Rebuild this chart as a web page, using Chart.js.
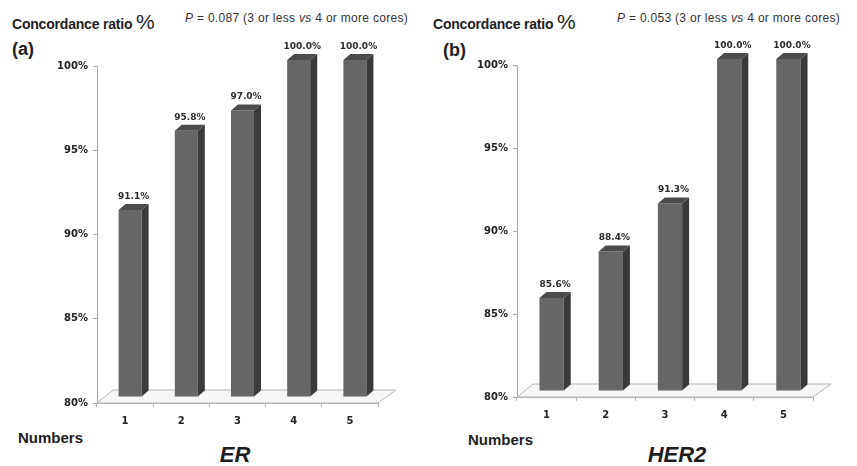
<!DOCTYPE html>
<html>
<head>
<meta charset="utf-8">
<script src="https://cdn.jsdelivr.net/npm/chart.js@4.4.0/dist/chart.umd.min.js"></script>
<style>
body{margin:0;width:857px;height:466px;position:relative;background:#fff;overflow:hidden;font-family:"Liberation Sans",Arial,sans-serif;color:#1e1e1e}
.t{position:absolute;line-height:1;white-space:nowrap}
.title{font-size:14px;font-weight:bold;letter-spacing:-0.2px}
.title span{font-size:21px;font-weight:normal;letter-spacing:0}
.pval{font-size:12px;color:#333;letter-spacing:0.3px}
.panel{font-size:18px;font-weight:bold}
.numbers{font-size:15px;font-weight:bold}
.marker{font-size:22px;font-weight:bold;font-style:italic;transform:translateX(-50%)}
.wrap{position:absolute;top:0;height:466px}
</style>
</head>
<body>
<div class="t title" style="left:12px;top:11px">Concordance ratio <span>%</span></div>
<div class="t pval" style="left:185px;top:12px"><i>P</i> = 0.087 (3 or less <i>vs</i> 4 or more cores)</div>
<div class="t panel" style="left:12px;top:40px">(a)</div>
<div class="t numbers" style="left:18px;top:430px">Numbers</div>
<div class="t marker" style="left:235px;top:444px">ER</div>

<div class="t title" style="left:433px;top:11px">Concordance ratio <span>%</span></div>
<div class="t pval" style="left:617px;top:12px"><i>P</i> = 0.053 (3 or less <i>vs</i> 4 or more cores)</div>
<div class="t panel" style="left:443px;top:41px">(b)</div>
<div class="t numbers" style="left:468px;top:432px">Numbers</div>
<div class="t marker" style="left:677px;top:444px">HER2</div>

<div class="wrap" style="left:0;width:428px"><canvas id="chartER"></canvas></div>
<div class="wrap" style="left:428px;width:429px"><canvas id="chartHER2"></canvas></div>

<script>
const categories = ['1', '2', '3', '4', '5'];
const erValues = [91.1, 95.8, 97.0, 100.0, 100.0];
const her2Values = [85.6, 88.4, 91.3, 100.0, 100.0];
const yMin = 80;
const yMax = 100;
const yStep = 5;

const shift = {dx: 5, dy: -6};
const depth = {dx: 7, dy: 6};

// fake 3d: floor, shifted bars, side + top faces, value labels
const bar3d = {
    id: 'bar3d',
    beforeDatasetsDraw(chart) {
        const ctx = chart.ctx
        const a = chart.chartArea
        ctx.save()
        ctx.fillStyle = '#f7f7f7'
        ctx.strokeStyle = '#b4b4b4'
        ctx.lineWidth = 1
        ctx.beginPath()
        ctx.moveTo(a.left, a.bottom)
        ctx.lineTo(a.right, a.bottom)
        ctx.lineTo(a.right + 18, a.bottom - 13)
        ctx.lineTo(a.left + 16, a.bottom - 13)
        ctx.closePath()
        ctx.fill()
        ctx.stroke()
        ctx.restore()
        ctx.save()
        ctx.translate(shift.dx, shift.dy)
    },
    afterDatasetsDraw(chart) {
        const ctx = chart.ctx
        const values = chart.data.datasets[0].data
        chart.getDatasetMeta(0).data.forEach((bar, i) => {
            const l = bar.x - bar.width / 2
            const r = bar.x + bar.width / 2
            const t = bar.y
            const b = bar.base
            ctx.fillStyle = '#3a3a3a'
            ctx.beginPath()
            ctx.moveTo(r, t)
            ctx.lineTo(r + depth.dx, t - depth.dy)
            ctx.lineTo(r + depth.dx, b - depth.dy)
            ctx.lineTo(r, b)
            ctx.closePath()
            ctx.fill()
            ctx.fillStyle = '#4c4c4c'
            ctx.beginPath()
            ctx.moveTo(l, t)
            ctx.lineTo(l + depth.dx, t - depth.dy)
            ctx.lineTo(r + depth.dx, t - depth.dy)
            ctx.lineTo(r, t)
            ctx.closePath()
            ctx.fill()
            ctx.fillStyle = '#2a2a2a'
            ctx.font = 'bold 9px "DejaVu Sans"'
            ctx.textAlign = 'center'
            ctx.textBaseline = 'bottom'
            ctx.fillText(values[i].toFixed(1) + '%', bar.x + depth.dx / 2, t - depth.dy - 3)
        })
        ctx.restore()
    }
};

const tickFont = {family: 'DejaVu Sans', weight: 'bold', size: 10};

function makeChart(id, values, pad, yWidth, xHeight) {
    return new Chart(document.getElementById(id), {
        type: 'bar',
        data: {
            labels: categories,
            datasets: [{
                data: values,
                base: yMin,
                backgroundColor: '#666666',
                barPercentage: 0.41,
                categoryPercentage: 1,
                clip: false
            }]
        },
        options: {
            responsive: true,
            maintainAspectRatio: false,
            animation: false,
            layout: {padding: pad},
            plugins: {legend: {display: false}, tooltip: {enabled: false}},
            scales: {
                x: {
                    offset: true,
                    border: {display: true, color: '#b4b4b4'},
                    grid: {offset: true, drawOnChartArea: false, drawTicks: true, tickLength: 4, color: '#b4b4b4'},
                    ticks: {font: tickFont, color: '#222', padding: 8},
                    afterFit: (s) => { s.height = xHeight }
                },
                y: {
                    min: yMin,
                    max: yMax,
                    border: {display: true, color: '#a8a8a8'},
                    grid: {drawOnChartArea: false, drawTicks: true, tickLength: 4, color: '#a8a8a8'},
                    ticks: {stepSize: yStep, font: tickFont, color: '#222', padding: 5, callback: (v) => v + '%'},
                    afterFit: (s) => { s.width = yWidth }
                }
            }
        },
        plugins: [bar3d]
    })
}

makeChart('chartER', erValues, {top: 66, right: 50, left: 0, bottom: 0}, 97, 63)
makeChart('chartHER2', her2Values, {top: 65, right: 44, left: 0, bottom: 0}, 89, 69)
</script>
</body>
</html>
